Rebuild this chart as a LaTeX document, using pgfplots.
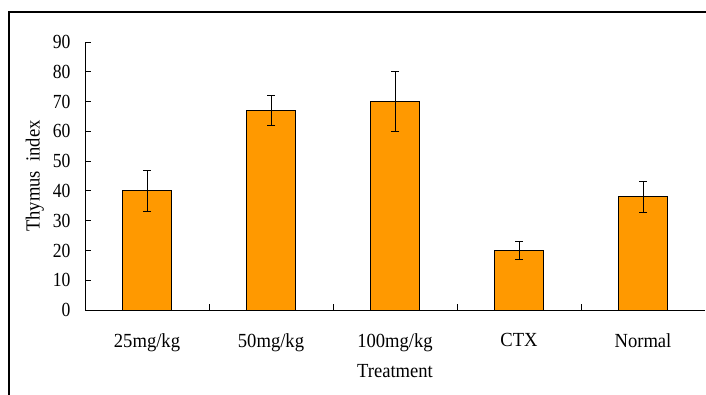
\documentclass[border=0pt]{standalone}
\usepackage{fontspec}
\setmainfont{Liberation Serif}
\newfontfamily\numfont[FakeStretch=0.88]{Liberation Serif}
\newfontfamily\labfont[FakeStretch=0.93]{Liberation Serif}
\usepackage{pgfplots}
\pgfplotsset{compat=1.18}
\definecolor{barorange}{HTML}{FF9900}
\begin{document}
\begin{tikzpicture}
\path[use as bounding box] (0,0) rectangle (706pt,394pt);
\clip (0,0) rectangle (706pt,394pt);
\draw[line width=1.5pt] (9pt,-10pt) -- (9pt,382pt) -- (720pt,382pt);
\begin{axis}[
  at={(85pt,84pt)}, anchor=south west, scale only axis,
  width=620pt, height=268pt,
  xmin=-0.5, xmax=4.5, ymin=0, ymax=90,
  axis x line=bottom, axis y line=left,
  axis line style={-, line width=1pt, black},
  xtick={0,1,2,3,4},
  xticklabels={25mg/kg,50mg/kg,100mg/kg,CTX,Normal},
  major x tick style={draw=none},
  minor xtick={0.5,1.5,2.5,3.5},
  minor x tick style={black, line width=0.8pt},
  minor tick length=6pt,
  ytick={0,10,...,90},
  major tick length=6pt,
  tick align=inside,
  major y tick style={black, line width=0.8pt},
  /pgf/number format/assume math mode=true,
  yticklabel style={font=\fontsize{20}{20}\selectfont\numfont, xshift=-11pt},
  xticklabel style={font=\fontsize{20}{20}\selectfont\labfont, yshift=-20pt},
  xlabel={Treatment},
  ylabel={Thymus\ \ index},
  xlabel style={font=\fontsize{20}{20}\selectfont\labfont, yshift=-6pt},
  ylabel style={font=\fontsize{20}{20}\selectfont\labfont, yshift=2pt},
]
\addplot[ybar, bar width=49pt, fill=barorange, draw=black, line width=0.8pt,
  error bars/.cd, y dir=both, y explicit,
  error bar style={line width=1pt, black},
  error mark options={rotate=90, mark size=4pt, line width=1pt, black}]
  coordinates {(0,40) +- (0,7) (1,67) +- (0,5) (2,70) +- (0,10) (3,20) +- (0,3) (4,38) +- (0,5.2)};
\end{axis}
\end{tikzpicture}
\end{document}
